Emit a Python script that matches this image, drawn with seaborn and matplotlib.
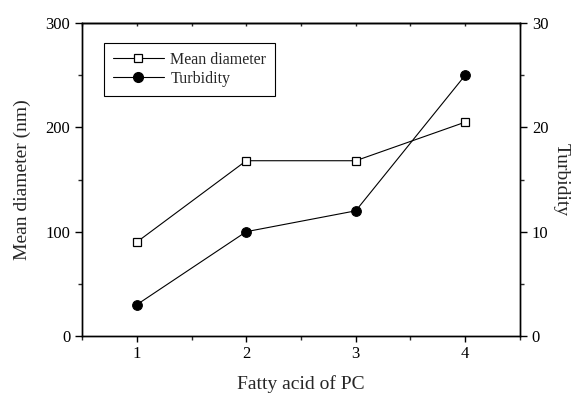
import matplotlib
matplotlib.use("Agg")
import matplotlib.pyplot as plt
import seaborn as sns
import pandas as pd
from matplotlib.ticker import MultipleLocator
from matplotlib.lines import Line2D

sns.set_style("ticks")
plt.rcParams['font.family'] = ['Liberation Serif', 'DejaVu Serif']

fatty_acid = [1, 2, 3, 4]
mean_diameter = [90, 168, 168, 205]
turbidity = [3, 10, 12, 25]

df = pd.DataFrame({"x": fatty_acid, "d": mean_diameter, "t": turbidity})

fig = plt.figure(figsize=(5.74, 3.96), dpi=100)
ax = fig.add_axes([0.1429, 0.1515, 0.9059 - 0.1429, 0.9419 - 0.1515])
ax2 = ax.twinx()

sns.lineplot(data=df, x="x", y="d", ax=ax, color="black", lw=0.8,
             marker="s", markersize=6, markerfacecolor="white",
             markeredgecolor="black", markeredgewidth=0.9)
sns.lineplot(data=df, x="x", y="t", ax=ax2, color="black", lw=0.8,
             marker="o", markersize=7, markerfacecolor="black",
             markeredgecolor="black")

ax.set_xlim(0.5, 4.5)
ax.set_ylim(0, 300)
ax2.set_ylim(0, 30)
ax.set_xticks(fatty_acid)
ax.xaxis.set_minor_locator(MultipleLocator(0.5))
ax.yaxis.set_major_locator(MultipleLocator(100))
ax.yaxis.set_minor_locator(MultipleLocator(50))
ax2.yaxis.set_major_locator(MultipleLocator(10))
ax2.yaxis.set_minor_locator(MultipleLocator(5))

for a in (ax, ax2):
    for s in a.spines.values():
        s.set_visible(True)
        s.set_linewidth(1.0)
        s.set_color("black")

ax.tick_params(axis="x", which="major", direction="out", length=4, width=1,
               labelsize=12, colors="black", top=False)
ax.tick_params(axis="x", which="minor", direction="out", length=3, width=1, top=False)
ax.tick_params(axis="y", which="major", direction="out", length=5, width=1,
               labelsize=12, colors="black")
ax.tick_params(axis="y", which="minor", direction="out", length=3, width=1)
ax2.tick_params(axis="y", which="major", direction="out", length=5, width=1,
                labelsize=12, colors="black")
ax2.tick_params(axis="y", which="minor", direction="out", length=3, width=1)

# top ticks inward, no labels
sec = ax.secondary_xaxis("top")
sec.set_xticks(fatty_acid)
sec.xaxis.set_minor_locator(MultipleLocator(0.5))
sec.tick_params(axis="x", which="both", direction="in", length=2, width=1,
                labeltop=False)
sec.spines["top"].set_linewidth(1.0)

ax.set_xlabel("Fatty acid of PC", fontsize=14, labelpad=9)
ax.set_ylabel("Mean diameter (nm)", fontsize=14, labelpad=10)
ax2.set_ylabel("Turbidity", fontsize=14, rotation=-90, labelpad=15)

handles = [
    Line2D([], [], color="black", lw=0.8, marker="s", markersize=6,
           markerfacecolor="white", markeredgecolor="black", markeredgewidth=0.9),
    Line2D([], [], color="black", lw=0.8, marker="o", markersize=7,
           markerfacecolor="black"),
]
leg = ax.legend(handles, ["Mean diameter", "Turbidity"], loc="upper left",
                bbox_to_anchor=(0.05, 0.936), borderaxespad=0, fontsize=11.5,
                frameon=True, fancybox=False, edgecolor="black", framealpha=1,
                handlelength=3.2, handletextpad=0.4, borderpad=0.55,
                labelspacing=0.2)
leg.get_frame().set_linewidth(0.8)
if ax2.get_legend():
    ax2.get_legend().remove()

fig.savefig("out.png", dpi=100)
